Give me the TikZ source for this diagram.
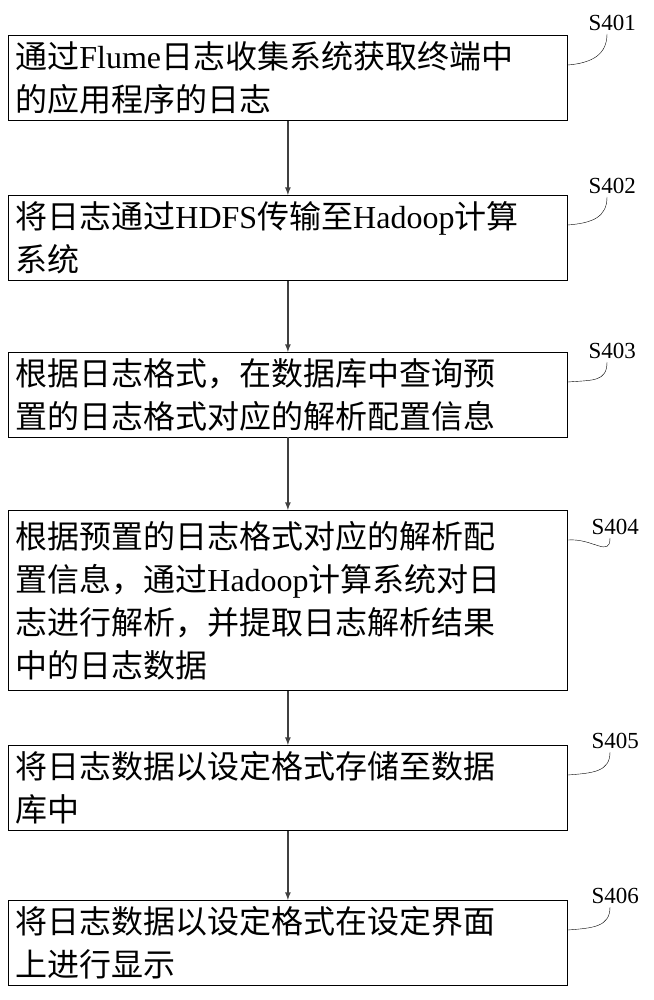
\documentclass[tikz,border=0pt]{standalone}
\usepackage{fontspec}
\setmainfont{Liberation Serif}
\newfontfamily\cjk{Noto Sans CJK SC}
\begin{document}
\begin{tikzpicture}[x=1pt,y=-1pt,
  stepbox/.style={draw,thick,minimum width=559pt,anchor=north west,
    text width=545pt,align=left,font=\fontsize{32}{43}\selectfont,inner sep=6pt},
  tag/.style={font=\fontsize{23}{26}\selectfont,anchor=south west}]
  \useasboundingbox (0,0) rectangle (653,1000);
  % steps
  \node[stepbox,minimum height=83pt] (B1) at (8,35) {{\cjk 通过}Flume{\cjk 日志收集系统获取终端中}\\{\cjk 的应用程序的日志}};
  \node[stepbox,minimum height=85pt] (B2) at (8,195) {{\cjk 将日志通过}HDFS{\cjk 传输至}Hadoop{\cjk 计算}\\{\cjk 系统}};
  \node[stepbox,minimum height=81pt] (B3) at (8,352) {{\cjk 根据日志格式，在数据库中查询预}\\{\cjk 置的日志格式对应的解析配置信息}};
  \node[stepbox,minimum height=180pt] (B4) at (8,510) {{\cjk 根据预置的日志格式对应的解析配}\\{\cjk 置信息，通过}Hadoop{\cjk 计算系统对日}\\{\cjk 志进行解析，并提取日志解析结果}\\{\cjk 中的日志数据}};
  \node[stepbox,minimum height=80pt] (B5) at (8,745) {{\cjk 将日志数据以设定格式存储至数据}\\{\cjk 库中}};
  \node[stepbox,minimum height=80pt] (B6) at (8,900) {{\cjk 将日志数据以设定格式在设定界面}\\{\cjk 上进行显示}};
  % arrows
  \foreach \a/\b in {B1/B2,B2/B3,B3/B4,B4/B5,B5/B6}
    \draw[line width=1.6pt,-latex,draw=black!75] (\a.south) -- (\b.north);
  % tags
  \node[tag] (T1) at (585,34) {S401};
  \node[tag] (T2) at (585,197) {S402};
  \node[tag] (T3) at (585,362) {S403};
  \node[tag] (T4) at (588,538) {S404};
  \node[tag] (T5) at (588,752) {S405};
  \node[tag] (T6) at (588,907) {S406};
  \foreach \i in {1,...,6}
    \draw (B\i.north east) ++(0,30) .. controls +(25,-2) and +(0,20) .. ([xshift=22pt]T\i.south west);
\end{tikzpicture}
\end{document}
